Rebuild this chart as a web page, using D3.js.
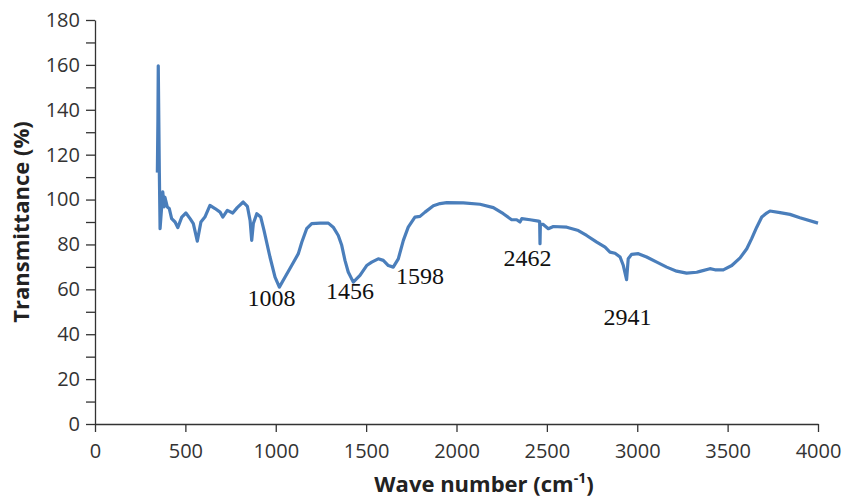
<!DOCTYPE html>
<html>
<head>
<meta charset="utf-8">
<script src="https://cdn.jsdelivr.net/npm/d3@7"></script>
<style>
  body { margin: 0; background: #fff; }
  .axis text { font-family: "Open Sans", sans-serif; font-size: 20px; fill: #333; }
  .axis path, .axis line { stroke: #333; stroke-width: 1.3px; }
  .title { font-family: "Open Sans", sans-serif; font-weight: bold; font-size: 22px; fill: #222; }
  .peak { font-family: "Liberation Serif", "Times New Roman", serif; font-size: 24px; fill: #111; }
</style>
</head>
<body>
<div id="chart"></div>
<script>
// FTIR spectrum
var waveNumber = [345, 348, 350, 356, 360, 375, 382, 387, 400, 411, 424, 443, 458, 480, 503, 526, 544, 566,
  586, 608, 636, 664, 692, 707, 732, 762, 787, 820, 843, 858, 867, 876, 895, 917, 935, 968, 996, 1020,
  1051, 1088, 1125, 1144, 1171, 1199, 1245, 1291, 1318, 1346, 1365, 1383, 1401, 1429, 1466, 1503, 1531,
  1567, 1595, 1623, 1650, 1678, 1706, 1733, 1770, 1798, 1826, 1872, 1909, 1946, 2038, 2130, 2204, 2259,
  2305, 2333, 2351, 2361, 2407, 2453, 2460, 2462, 2464, 2480, 2508, 2536, 2610, 2674, 2720, 2776, 2822,
  2849, 2877, 2905, 2923, 2941, 2950, 2969, 3006, 3052, 3108, 3163, 3218, 3273, 3329, 3347, 3402, 3430,
  3476, 3523, 3569, 3606, 3633, 3661, 3689, 3716, 3734, 3790, 3845, 3900, 4000];
var transmittance = [112, 135, 159.6, 112, 87, 103.4, 96.7, 101, 96.7, 96, 91.5, 90, 87.5, 92.2, 94, 91.5, 89.3, 81.5,
  90, 92.2, 97.4, 96, 94.4, 92.2, 95.2, 94, 96.4, 98.9, 97, 90.7, 81.8, 89.3, 93.7, 92.2, 86.3, 74.4, 65.4, 61,
  65.4, 70.6, 75.9, 81, 87, 89.3, 89.5, 89.5, 87.7, 84, 79.6, 72.9, 67.7, 63.2, 66.2, 70.6, 72.1,
  73.6, 72.9, 70.6, 69.9, 73.6, 81.8, 87.7, 92.2, 92.5, 94.4, 97.2, 98.2, 98.6, 98.5, 97.9, 96.4, 93.7,
  91, 91, 90, 91.5, 91, 90.4, 90.2, 80.3, 89, 88.9, 87, 88, 87.7, 86.2, 84, 81, 78.8,
  76.6, 76.1, 74.4, 70.6, 64.3, 73.6, 75.6, 75.9, 74.4, 72.1, 69.9, 68.1, 67.2, 67.6, 68, 69.2, 68.7,
  68.7, 70.6, 74, 78.1, 82.6, 87.7, 92.2, 94, 94.9, 94.2, 93.4, 91.9, 89.5];

var peakLabels = ["1008", "1456", "1598", "2462", "2941"];
var peakWave = [976, 1411, 1798, 2393, 2946];
var peakValue = [52.7, 55.7, 62.4, 70.6, 44.2];

var xTicks = [0, 500, 1000, 1500, 2000, 2500, 3000, 3500, 4000];

var margin = {top: 20, right: 25, bottom: 73, left: 95},
    width = 843 - margin.left - margin.right,
    height = 497 - margin.top - margin.bottom;

var svg = d3.select("#chart").append("svg")
    .attr("width", 843)
    .attr("height", 497);

var g = svg.append("g")
    .attr("transform", "translate(" + margin.left + "," + margin.top + ")");

var x = d3.scaleLinear().domain([0, 4000]).range([0, width]);
var y = d3.scaleLinear().domain([0, 180]).range([height, 0]);

var xAxis = d3.axisBottom(x)
    .tickValues(xTicks)
    .tickFormat(d3.format("d"))
    .tickSize(8)
    .tickSizeOuter(0)
    .tickPadding(12);

var yAxis = d3.axisLeft(y)
    .tickValues(d3.range(0, 181, 10))
    .tickFormat(function(d){ return d % 20 === 0 ? d : ""; })
    .tickSize(9)
    .tickSizeOuter(0)
    .tickPadding(6);

g.append("g")
    .attr("class", "x axis")
    .attr("transform", "translate(0," + height + ")")
    .call(xAxis);

g.append("g")
    .attr("class", "y axis")
    .call(yAxis);

//the spectrum
var points = waveNumber.map(function(w, i){ return {x: w, y: transmittance[i]}; });

var line = d3.line()
    .x(function(d){ return x(d.x); })
    .y(function(d){ return y(d.y); });

g.append("path")
    .datum(points)
    .attr("fill", "none")
    .attr("stroke", "#4a7ebb")
    .attr("stroke-width", 3.2)
    .attr("stroke-linejoin", "round")
    .attr("d", line);

//peak labels
g.selectAll(".peak")
    .data(peakLabels)
    .enter().append("text")
    .attr("class", "peak")
    .attr("text-anchor", "middle")
    .attr("x", function(d, i){ return x(peakWave[i]); })
    .attr("y", function(d, i){ return y(peakValue[i]); })
    .text(function(d){ return d; });

//axis titles
var xTitle = svg.append("text")
    .attr("class", "title")
    .attr("text-anchor", "middle")
    .attr("x", 484)
    .attr("y", 492);
xTitle.append("tspan").text("Wave number (cm");
xTitle.append("tspan").attr("baseline-shift", "super").attr("font-size", "14px").text("-1");
xTitle.append("tspan").text(")");

svg.append("text")
    .attr("class", "title")
    .attr("text-anchor", "middle")
    .attr("transform", "translate(29,222) rotate(-90)")
    .text("Transmittance (%)");
</script>
</body>
</html>
